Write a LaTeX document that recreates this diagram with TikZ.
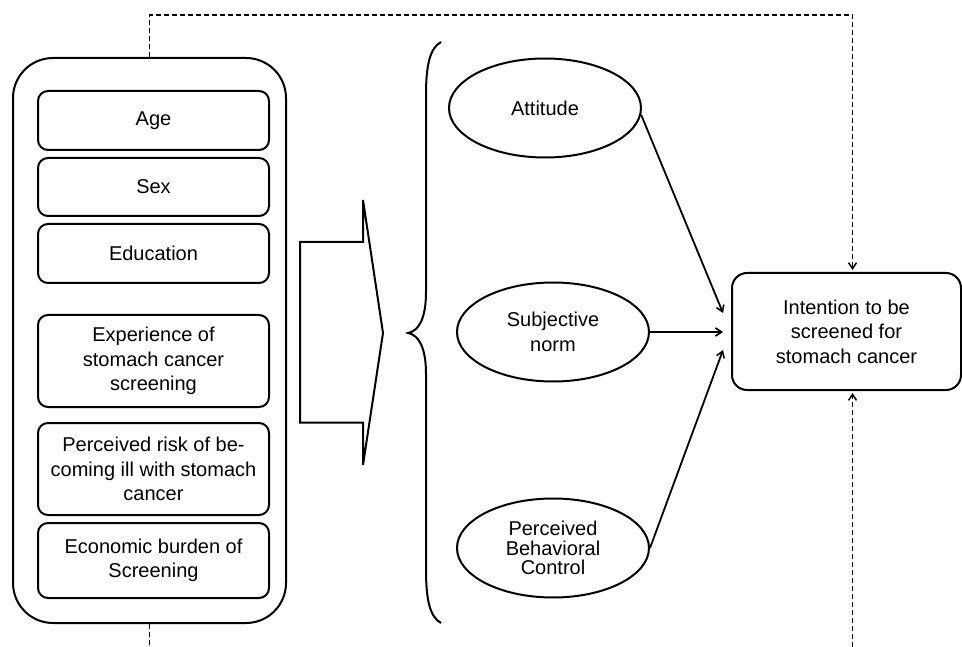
\documentclass[tikz,border=0pt]{standalone}
\usepackage{fontspec}
\setmainfont{Liberation Sans}
\usetikzlibrary{arrows.meta,shapes.geometric}
\begin{document}
\begin{tikzpicture}[x=1pt,y=-1pt,
  every node/.style={font=\fontsize{20}{24.5}\selectfont, align=center},
  outerbox/.style={draw, line width=2pt, rounded corners=40pt, minimum width=273pt, minimum height=565pt, inner sep=0pt},
  itembox/.style={draw, line width=2pt, rounded corners=10pt, minimum width=231pt, inner sep=0pt},
  oval/.style={draw, ellipse, line width=2pt, minimum width=192pt, minimum height=99pt, inner sep=0pt},
  goalbox/.style={draw, line width=2pt, rounded corners=15pt, minimum width=229pt, minimum height=117pt, inner sep=0pt},
  link/.style={line width=1.8pt, -{Straight Barb[length=6pt,width=8pt,line width=1.6pt]}},
  dsh/.style={line width=1.7pt, dash pattern=on 5pt off 3pt},
  dsharrow/.style={dsh, -{Straight Barb[length=6pt,width=8pt,line width=1.5pt]}, shorten >=2pt}
]
\useasboundingbox (0,0) rectangle (962,647);

% outer container
\node[outerbox] (outer) at (149.5,340.5) {};
\node[itembox, minimum height=59pt] (age) at (153.5,120.5) {Age};
\node[itembox, minimum height=58pt] (sex) at (153.5,187) {Sex};
\node[itembox, minimum height=59pt] (edu) at (153.5,253.5) {Education};
\node[itembox, minimum height=92pt] (exp) at (153.5,361) {Experience of\\stomach cancer\\screening};
\node[itembox, minimum height=92pt] (risk) at (153.5,469) {Perceived risk of be-\\coming ill with stomach\\cancer};
\node[itembox, minimum height=75pt] (econ) at (153.5,560.5) {Economic burden of\\Screening};

% block arrow
\draw[line width=2pt, line join=miter] (300,242) -- (363,242) -- (363,200) -- (383,333) -- (363,465) -- (363,422.6) -- (300,422.6) -- cycle;

% brace
\draw[line width=2pt] (441,42) .. controls (430,48) and (426,65) .. (426,95) -- (426,292)
  .. controls (426,318) and (419,331) .. (408,333)
  .. controls (419,335) and (426,348) .. (426,374) -- (426,570)
  .. controls (426,600) and (430,617) .. (441,623);

% TPB constructs
\node[oval] (att) at (545,108) {Attitude};
\node[oval] (sn) at (553,332) {Subjective\\norm};
\node[oval, font=\fontsize{20}{19.5}\selectfont] (pbc) at (553,548) {Perceived\\Behavioral\\Control};

% intention
\node[goalbox] (goal) at (846.5,331.5) {Intention to be\\screened for\\stomach cancer};

\coordinate (in1) at (723,313);
\coordinate (in2) at (723,332);
\coordinate (in3) at (723,350);
\draw[link] (att.-4) -- (in1);
\draw[link] (sn.east) -- (in2);
\draw[link] (pbc.east) -- (in3);

% dashed connections
\coordinate (topright) at (852.5,15);
\coordinate (botleft) at (149.5,647);
\coordinate (botright) at (852.5,647);
\draw[dsharrow] (outer.north) |- (topright) -- (topright |- goal.north);
\draw[dsh] (outer.south) -- (botleft);
\draw[dsharrow] (botright) -- (botright |- goal.south);
\end{tikzpicture}
\end{document}
